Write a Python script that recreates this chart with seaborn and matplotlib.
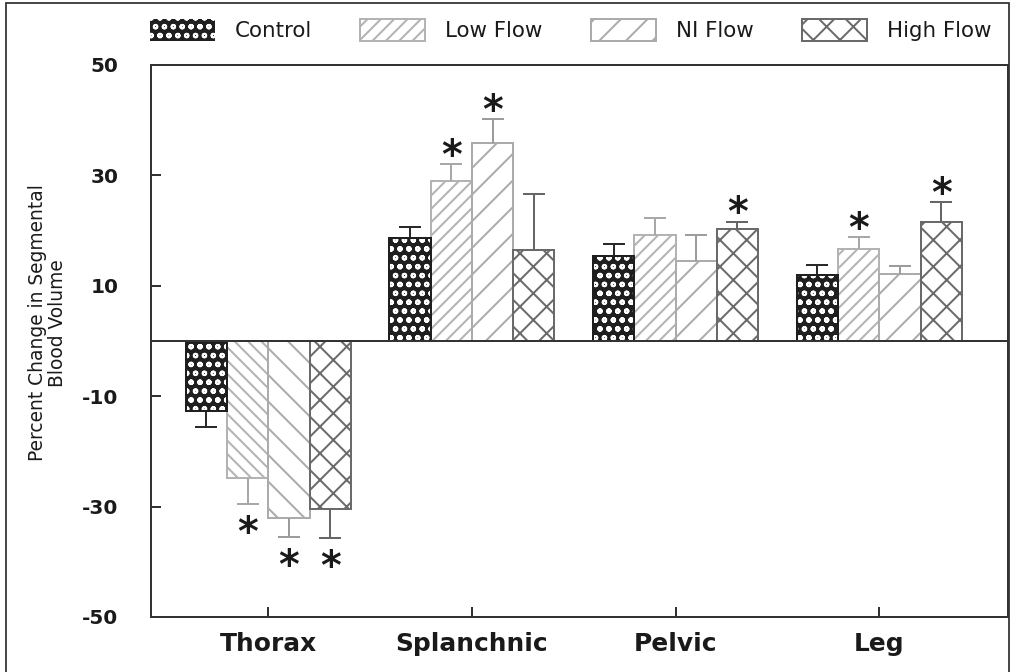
import numpy as np
import pandas as pd
import matplotlib
matplotlib.use("Agg")
import matplotlib.pyplot as plt
from matplotlib.patches import Patch, Rectangle
import seaborn as sns

# ---------------- data ----------------
categories = ["Thorax", "Splanchnic", "Pelvic", "Leg"]
groups = ["Control", "Low Flow", "NI Flow", "High Flow"]

control = [-12.6, 18.6, 15.4, 12.0]
control_err = [2.9, 2.1, 2.2, 1.8]
low_flow = [-24.8, 28.9, 19.2, 16.6]
low_flow_err = [4.8, 3.1, 3.1, 2.2]
ni_flow = [-32.1, 35.8, 14.5, 12.1]
ni_flow_err = [3.4, 4.4, 4.7, 1.5]
high_flow = [-30.5, 16.5, 20.2, 21.6]
high_flow_err = [5.2, 10.1, 1.4, 3.5]

control_sig = [False, False, False, False]
low_flow_sig = [True, True, False, True]
ni_flow_sig = [True, True, False, False]
high_flow_sig = [True, False, True, True]

y_ticks = [50, 30, 10, -10, -30, -50]
y_label = "Percent Change in Segmental\nBlood Volume"

values = [control, low_flow, ni_flow, high_flow]
errors = [control_err, low_flow_err, ni_flow_err, high_flow_err]
sigs = [control_sig, low_flow_sig, ni_flow_sig, high_flow_sig]

df = pd.DataFrame({
    "segment": [c for g in groups for c in categories],
    "condition": [g for g in groups for c in categories],
    "value": [v for vals in values for v in vals],
})

# ---------------- style ----------------
sns.set_theme(style="white")
plt.rcParams["font.family"] = ["DejaVu Sans"]
plt.rcParams["hatch.linewidth"] = 0.9

DPI = 160
LW = 0.9
fig = plt.figure(figsize=(1012 / DPI, 672 / DPI), dpi=DPI)
ax = fig.add_axes([151 / 1012, 1 - 617 / 672, (1008 - 151) / 1012, (617 - 65) / 672])

edge_cols = ["#1f1f1f", "#b3b3b3", "#ababab", "#6a6a6a"]
err_cols = ["#2a2a2a", "#a8a8a8", "#9c9c9c", "#666666"]
hatch_pos = ["ooo", "////", "//", "xx"]
hatch_neg = ["ooo", "\\\\\\\\", "\\\\", "xx"]

sns.barplot(data=df, x="segment", y="value", hue="condition",
            order=categories, hue_order=groups, width=0.81,
            palette=dict(zip(groups, ["#1f1f1f", "white", "white", "white"])),
            saturation=1, errorbar=None, legend=False, ax=ax)

for gi, cont in enumerate(ax.containers):
    for ci, p in enumerate(cont.patches):
        h = hatch_neg[gi] if values[gi][ci] < 0 else hatch_pos[gi]
        if gi == 0:
            p.set_facecolor("#1f1f1f")
            p.set_edgecolor("white")
            p.set_linewidth(0)
            p.set_hatch(h)
            ax.add_patch(Rectangle(p.get_xy(), p.get_width(), p.get_height(),
                                   fill=False, edgecolor=edge_cols[0], lw=LW,
                                   zorder=p.get_zorder() + 0.1))
        else:
            p.set_facecolor("white")
            p.set_edgecolor(edge_cols[gi])
            p.set_linewidth(LW)
            p.set_hatch(h)
        # one-sided error bar
        xc = p.get_x() + p.get_width() / 2
        v = values[gi][ci]
        e = errors[gi][ci]
        end = v + e if v >= 0 else v - e
        ax.vlines(xc, v, end, color=err_cols[gi], lw=LW, zorder=1)
        ax.plot([xc], [end], marker="_", markersize=9.9, markeredgewidth=LW,
                color=err_cols[gi], zorder=1)
        if sigs[gi][ci]:
            off = 3.3 if v >= 0 else -13.4
            ax.annotate("*", xy=(xc, end), xytext=(0, off), textcoords="offset points",
                        ha="center", va="center", fontsize=17.9, fontweight="bold",
                        color="#1a1a1a")

ax.axhline(0, color="#333333", lw=LW, zorder=3)

ax.set_xlim(-0.576, 3.632)
ax.set_ylim(-50, 50)
ax.set_yticks(y_ticks)
ax.set_yticklabels([str(t) for t in y_ticks], fontsize=9.0, fontweight="bold", color="#1a1a1a")
ax.set_xticks(range(len(categories)))
ax.set_xticklabels(categories, fontsize=11.2, fontweight="bold", color="#1a1a1a")
ax.tick_params(axis="both", direction="in", length=4.5, width=LW, color="#333333",
               left=True, bottom=True, top=False, right=False)
ax.tick_params(axis="y", pad=14.6)
ax.tick_params(axis="x", pad=6.9)
ax.set_xlabel("")
ax.set_ylabel(y_label, fontsize=8.4, linespacing=1.1, color="#1a1a1a")
ax.yaxis.set_label_coords(-0.098, 0.533)
for s in ax.spines.values():
    s.set_visible(True)
    s.set_color("#333333")
    s.set_linewidth(LW)

# legend
handles = [
    Patch(facecolor="#1f1f1f", edgecolor="white", hatch="ooo", lw=0),
    Patch(facecolor="white", edgecolor=edge_cols[1], hatch="////", lw=LW),
    Patch(facecolor="white", edgecolor=edge_cols[2], hatch="//", lw=LW),
    Patch(facecolor="white", edgecolor=edge_cols[3], hatch="xx", lw=LW),
]
fig.legend(handles, groups, loc="center left", bbox_to_anchor=(150 / 1012, 1 - 30 / 672),
           ncol=4, frameon=False, borderpad=0, borderaxespad=0,
           handlelength=3.04, handleheight=1.25, handletextpad=0.93,
           columnspacing=2.25, fontsize=9.63, labelcolor="#1a1a1a")

# outer frame
fig.add_artist(Rectangle((6 / 1012, -0.01), (1009 - 6) / 1012, 1.01 - 3 / 672,
                         transform=fig.transFigure, fill=False, edgecolor="#333333", lw=0.8))

fig.savefig("out.png", dpi=DPI)
